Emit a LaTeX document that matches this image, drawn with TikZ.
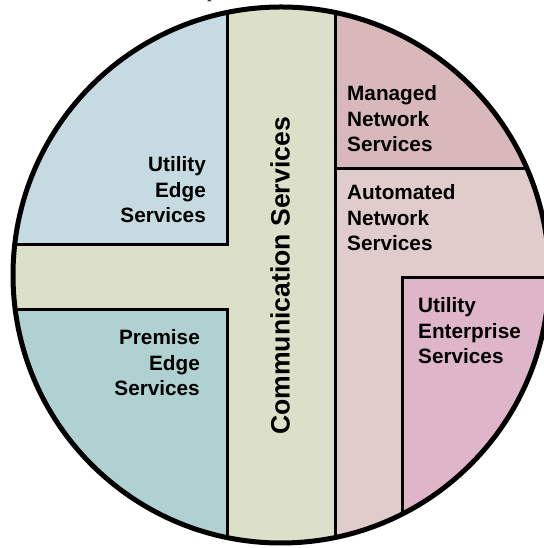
\documentclass[tikz,border=0pt]{standalone}
\usepackage{fontspec}
\setmainfont{Liberation Sans}
\newfontfamily\capfont{Liberation Serif}
\begin{document}
\begin{tikzpicture}[x=1pt,y=1pt,
  sep/.style={line width=3pt, line cap=rect},
  lbl/.style={inner sep=0pt, font=\bfseries\fontsize{20.75}{25.5}\selectfont},
  biglbl/.style={inner sep=0pt, font=\bfseries\fontsize{26.6}{30}\selectfont}]
\useasboundingbox (0,0) rectangle (543,548);
\definecolor{cUE}{HTML}{C6DAE1}
\definecolor{cPE}{HTML}{AFD1D2}
\definecolor{cCS}{HTML}{DCE0C8}
\definecolor{cMN}{HTML}{D8B8BA}
\definecolor{cAN}{HTML}{E1CCCC}
\definecolor{cES}{HTML}{DEB5C9}
\coordinate (C) at (281,273);
\begin{scope}
  \clip (C) circle (268);
  \fill[cCS] (0,0) rectangle (560,548);
  \fill[cUE] (0,548-245) rectangle (227,548);
  \fill[cPE] (0,0) rectangle (227,548-310);
  \fill[cMN] (335,548-169) rectangle (560,548);
  \fill[cAN] (335,0) rectangle (560,548-169);
  \fill[cES] (402,0) rectangle (560,548-278);
  % separators
  \coordinate (a1) at (227,548);  \coordinate (a2) at (227,548-245);
  \coordinate (a3) at (0,548-245);
  \coordinate (b1) at (227,0);    \coordinate (b2) at (227,548-310);
  \coordinate (b3) at (0,548-310);
  \coordinate (m1) at (335,548);  \coordinate (m2) at (335,0);
  \coordinate (m3) at (335,548-169); \coordinate (m4) at (560,548-169);
  \coordinate (e1) at (402,0);    \coordinate (e2) at (402,548-278);
  \coordinate (e3) at (560,548-278);
  \draw[sep] (a1) -- (a2) -- (a3);
  \draw[sep] (b1) -- (b2) -- (b3);
  \draw[sep] (m1) -- (m2);
  \draw[sep] (m3) -- (m4);
  \draw[sep] (e1) -- (e2) -- (e3);
\end{scope}
\draw[line width=5pt] (C) circle (268);
% labels (base anchor = baseline of the last line)
\node[lbl, anchor=base east, align=right] (ue) at (206,548-223) {Utility\\Edge\\Services};
\node[lbl, anchor=base east, align=right] (pe) at (200,548-396) {Premise\\Edge\\Services};
\node[lbl, anchor=base west, align=left] (mn) at (347,548-152) {Managed\\Network\\Services};
\node[lbl, anchor=base west, align=left] (an) at (347,548-251) {Automated\\Network\\Services};
\node[lbl, anchor=base west, align=left] (es) at (418,548-364) {Utility\\Enterprise\\Services};
\node[biglbl, rotate=90] (cs) at (280,548-276) {Communication Services};
% clipped caption fragment at the top edge
\node[inner sep=0pt, anchor=base, font=\capfont\fontsize{20}{24}\selectfont] (cap) at (212,550) {p};
\end{tikzpicture}
\end{document}
